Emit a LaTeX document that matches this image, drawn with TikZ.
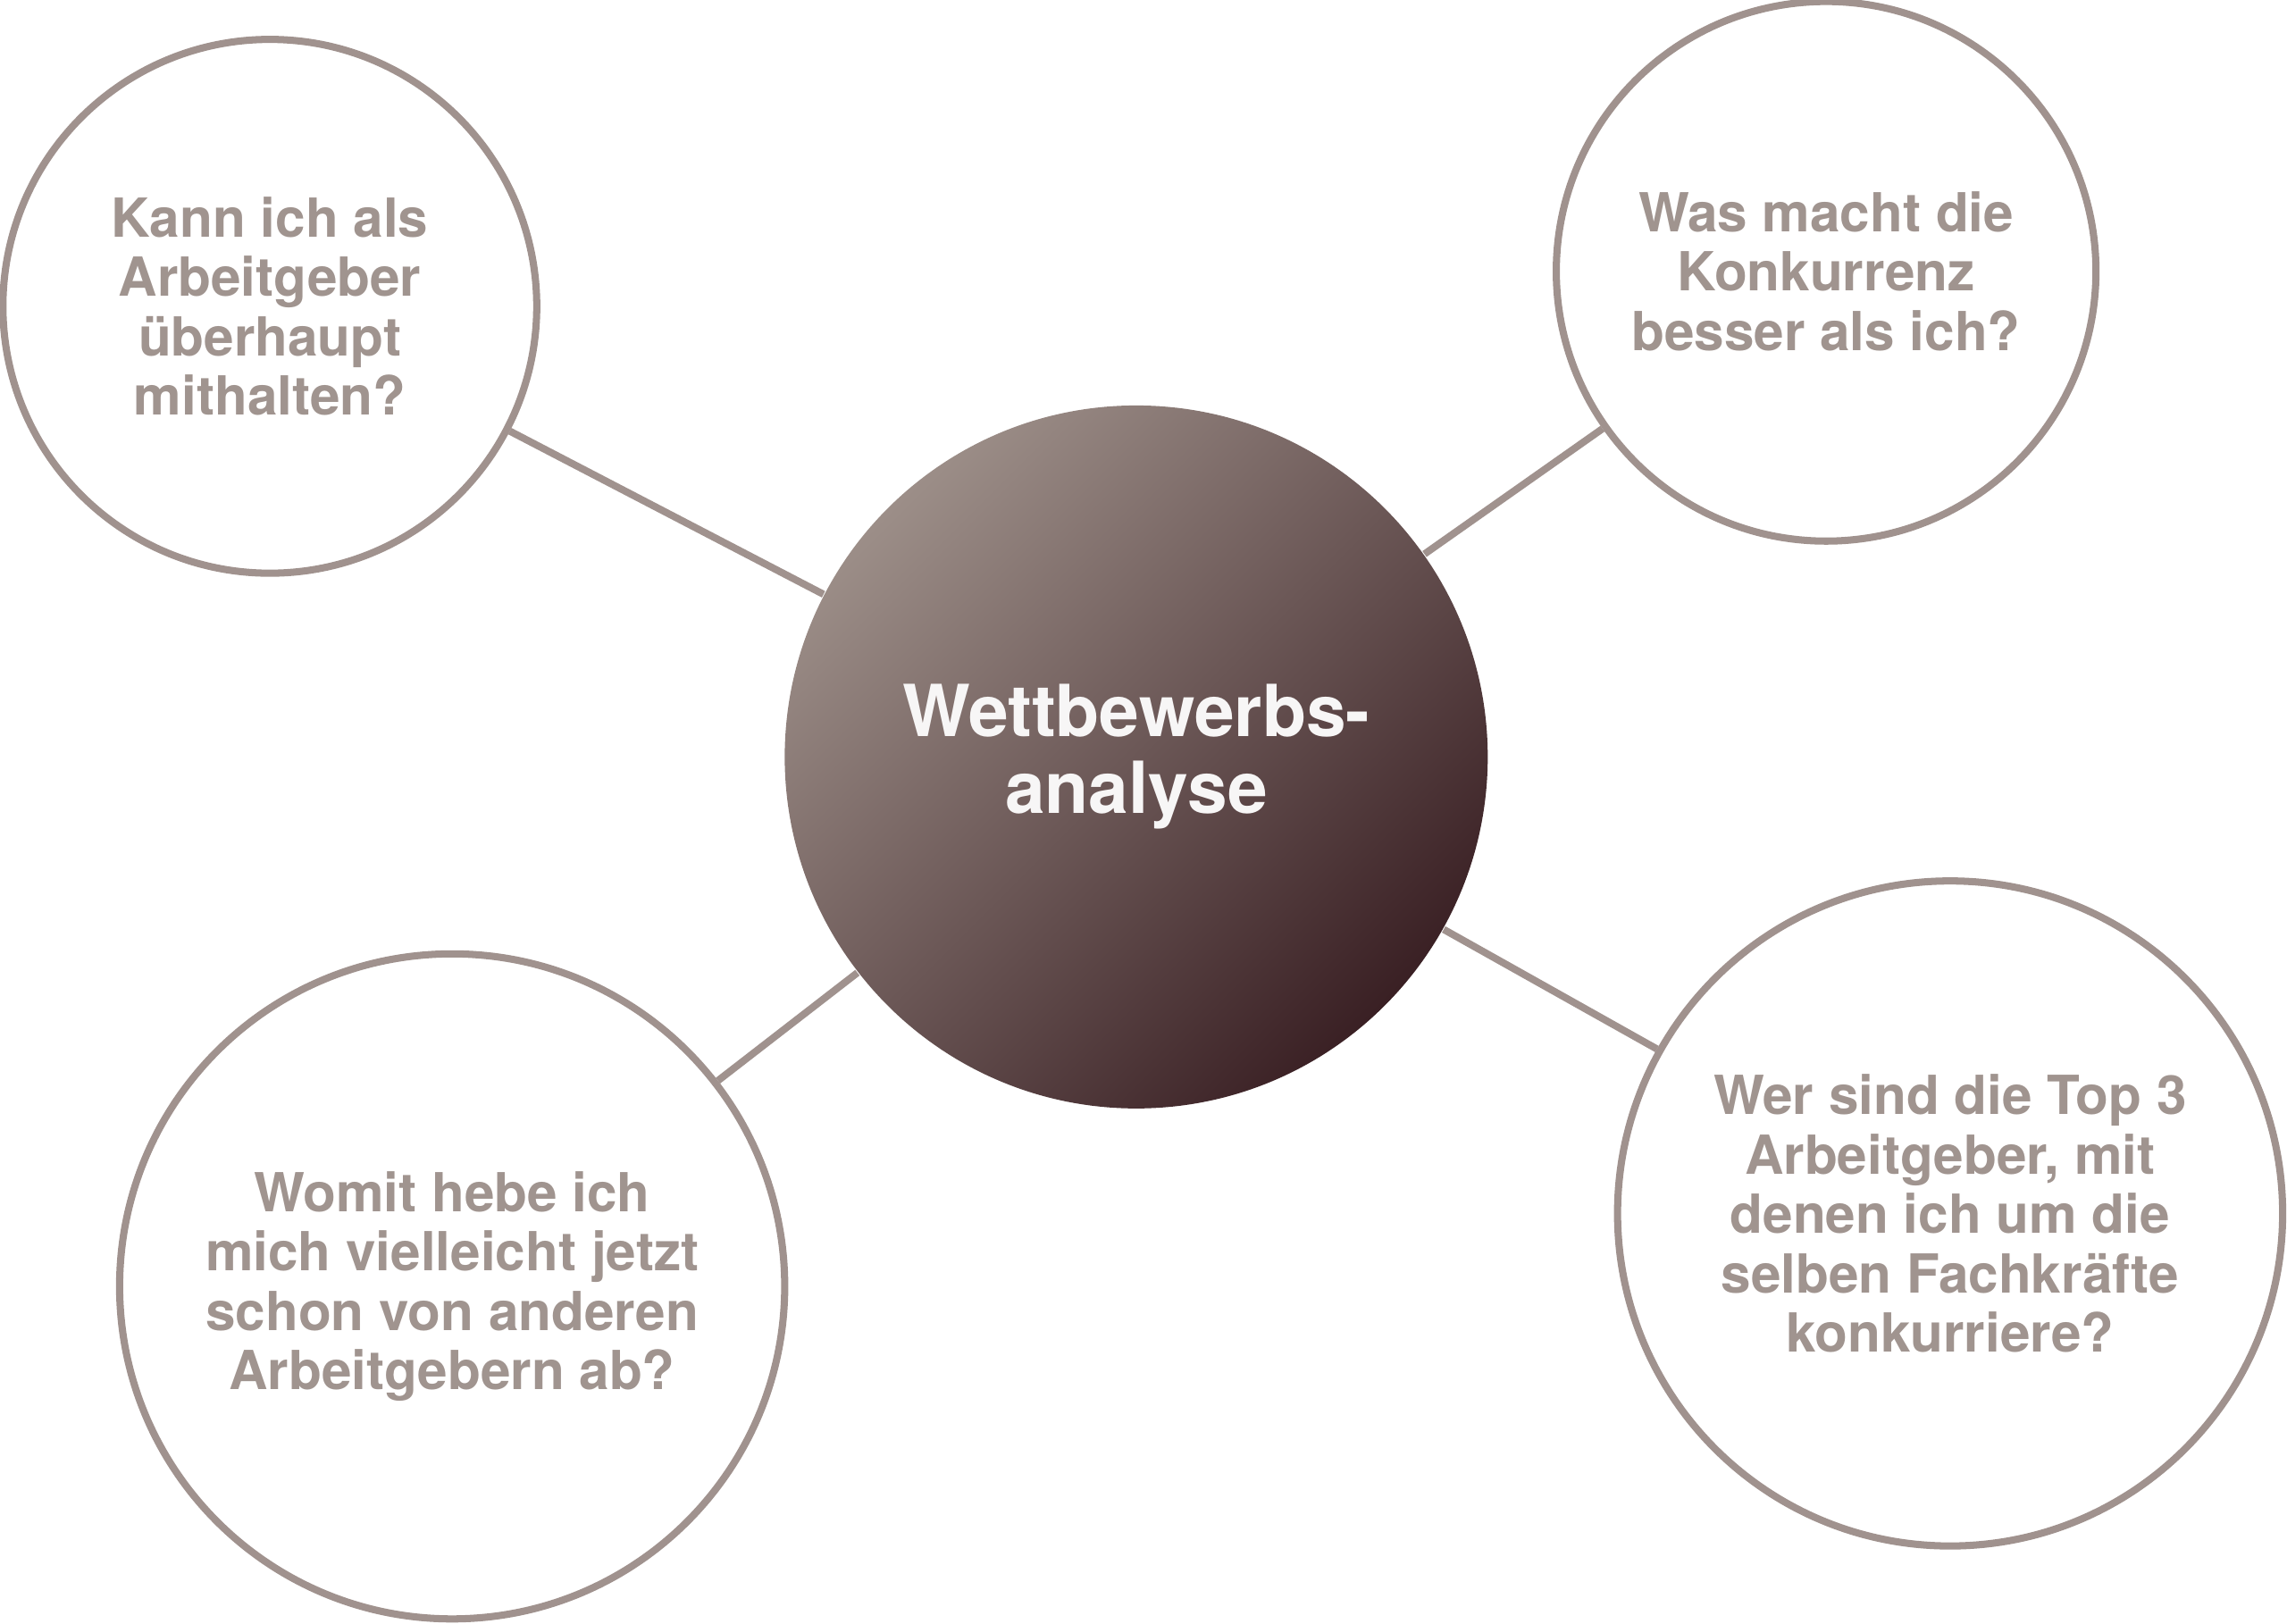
\documentclass[tikz,border=0pt]{standalone}
\usepackage{fontspec}
\setmainfont{TeX Gyre Heros}
\usepackage{tikz}

\definecolor{rim}{HTML}{A0928E}
\definecolor{qtext}{HTML}{A0948F}
\definecolor{light}{HTML}{9C8E88}
\definecolor{dark}{HTML}{3A2024}

\tikzset{
    question/.style={circle, draw=rim, line width=1.4pt, align=center,
        text=qtext, font=\bfseries\fontsize{10.5}{11.6}\selectfont},
    link/.style={draw=rim, line width=1.4pt}
}

\begin{document}
\begin{tikzpicture}
        \useasboundingbox (0,0) rectangle (15.68,-11.13);
        \node   (ana) [circle, minimum size=4.82cm, top color=light, bottom color=dark,
                shading angle=45, text=white!92!rim, align=center,
                font=\bfseries\fontsize{14}{15}\selectfont] at (7.79,-5.19)   {Wettbewerbs-\\analyse};
        \node   (tl) [question, minimum size=3.66cm] at (1.85,-2.10)     {Kann ich als\\Arbeitgeber\\überhaupt\\mithalten?};
        \node   (tr) [question, minimum size=3.70cm] at (12.52,-1.86)    {Was macht die\\Konkurrenz\\besser als ich?};
        \node   (bl) [question, minimum size=4.56cm] at (3.10,-8.82)     {Womit hebe ich\\mich vielleicht jetzt\\schon von anderen\\Arbeitgebern ab?};
        \node   (br) [question, minimum size=4.56cm] at (13.37,-8.32)    {Wer sind die Top 3\\Arbeitgeber, mit\\denen ich um die\\selben Fachkräfte\\konkurriere?};
        \draw[link] (ana) -- (tl);
        \draw[link] (ana) -- (tr);
        \draw[link] (ana) -- (bl);
        \draw[link] (ana) -- (br);
    \end{tikzpicture}
\end{document}
